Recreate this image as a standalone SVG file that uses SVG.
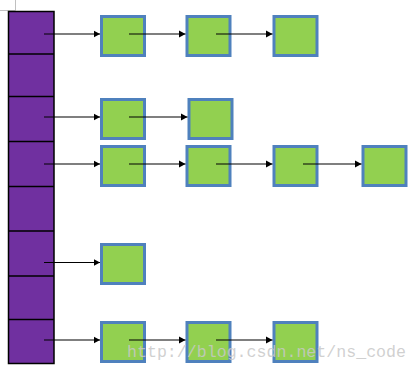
<svg xmlns="http://www.w3.org/2000/svg" width="419" height="371" viewBox="0 0 419 371">
<style>
.bucket{fill:#7030a0;stroke:#000;stroke-width:1.5}
.div{stroke:#000;stroke-width:1.5}
.node{fill:#92d050;stroke:#4f81bd;stroke-width:3}
.conn{stroke:#000;stroke-width:1.2;fill:none;marker-end:url(#ah)}
.wm{font-family:"Liberation Mono",monospace;font-size:16.6px;fill:#c8c8c8;fill-opacity:0.85}
</style>
<defs>
<marker id="ah" markerWidth="7" markerHeight="8" refX="6.5" refY="4" orient="auto" markerUnits="userSpaceOnUse">
<path d="M0,0.5 L6.5,4 L0,7.5 Z" fill="#000"/>
</marker>
</defs>
<rect width="419" height="371" fill="#fff"/>
<path d="M0,10.5 H15.5 V0" stroke="#c0c0c0" stroke-width="1" fill="none"/>
<g id="table">
<rect class="bucket" x="8.5" y="11.5" width="45.5" height="352"/>
<line class="div" x1="8.5" y1="54" x2="54" y2="54"/>
<line class="div" x1="8.5" y1="96.5" x2="54" y2="96.5"/>
<line class="div" x1="8.5" y1="141.5" x2="54" y2="141.5"/>
<line class="div" x1="8.5" y1="186.5" x2="54" y2="186.5"/>
<line class="div" x1="8.5" y1="231" x2="54" y2="231"/>
<line class="div" x1="8.5" y1="276" x2="54" y2="276"/>
<line class="div" x1="8.5" y1="319.5" x2="54" y2="319.5"/>
</g>
<g id="r0c1"><rect class="node" x="101.5" y="16.5" width="43" height="39"/></g>
<g id="r0c2"><rect class="node" x="187" y="16.5" width="43" height="39"/></g>
<g id="r0c3"><rect class="node" x="274" y="16.5" width="43" height="39"/></g>
<g id="r2c1"><rect class="node" x="101.5" y="99.5" width="43" height="39"/></g>
<g id="r2c2"><rect class="node" x="189" y="99.5" width="43" height="39"/></g>
<g id="r3c1"><rect class="node" x="101.5" y="146.5" width="43" height="39"/></g>
<g id="r3c2"><rect class="node" x="187" y="146.5" width="43" height="39"/></g>
<g id="r3c3"><rect class="node" x="274" y="146.5" width="43" height="39"/></g>
<g id="r3c4"><rect class="node" x="363" y="146.5" width="43" height="39"/></g>
<g id="r5c1"><rect class="node" x="101.5" y="244.5" width="43" height="39"/></g>
<g id="r7c1"><rect class="node" x="101.5" y="322.5" width="43" height="39"/></g>
<g id="r7c2"><rect class="node" x="187" y="322.5" width="43" height="39"/></g>
<g id="r7c3"><rect class="node" x="274" y="322.5" width="43" height="39"/></g>
<g id="connectors">
<line class="conn" x1="44" y1="34" x2="100" y2="34"/>
<line class="conn" x1="129" y1="34" x2="185.5" y2="34"/>
<line class="conn" x1="216" y1="34" x2="272.5" y2="34"/>
<line class="conn" x1="44" y1="117" x2="100" y2="117"/>
<line class="conn" x1="129" y1="117" x2="187.5" y2="117"/>
<line class="conn" x1="44" y1="164" x2="100" y2="164"/>
<line class="conn" x1="129" y1="164" x2="185.5" y2="164"/>
<line class="conn" x1="216" y1="164" x2="272.5" y2="164"/>
<line class="conn" x1="303" y1="164" x2="361.5" y2="164"/>
<line class="conn" x1="44" y1="262.5" x2="100" y2="262.5"/>
<line class="conn" x1="44" y1="340" x2="100" y2="340"/>
<line class="conn" x1="129" y1="340" x2="185.5" y2="340"/>
<line class="conn" x1="216" y1="340" x2="272.5" y2="340"/>
</g>
<text class="wm" x="127" y="357" textLength="279" lengthAdjust="spacingAndGlyphs">http://blog.csdn.net/ns_code</text>
</svg>
